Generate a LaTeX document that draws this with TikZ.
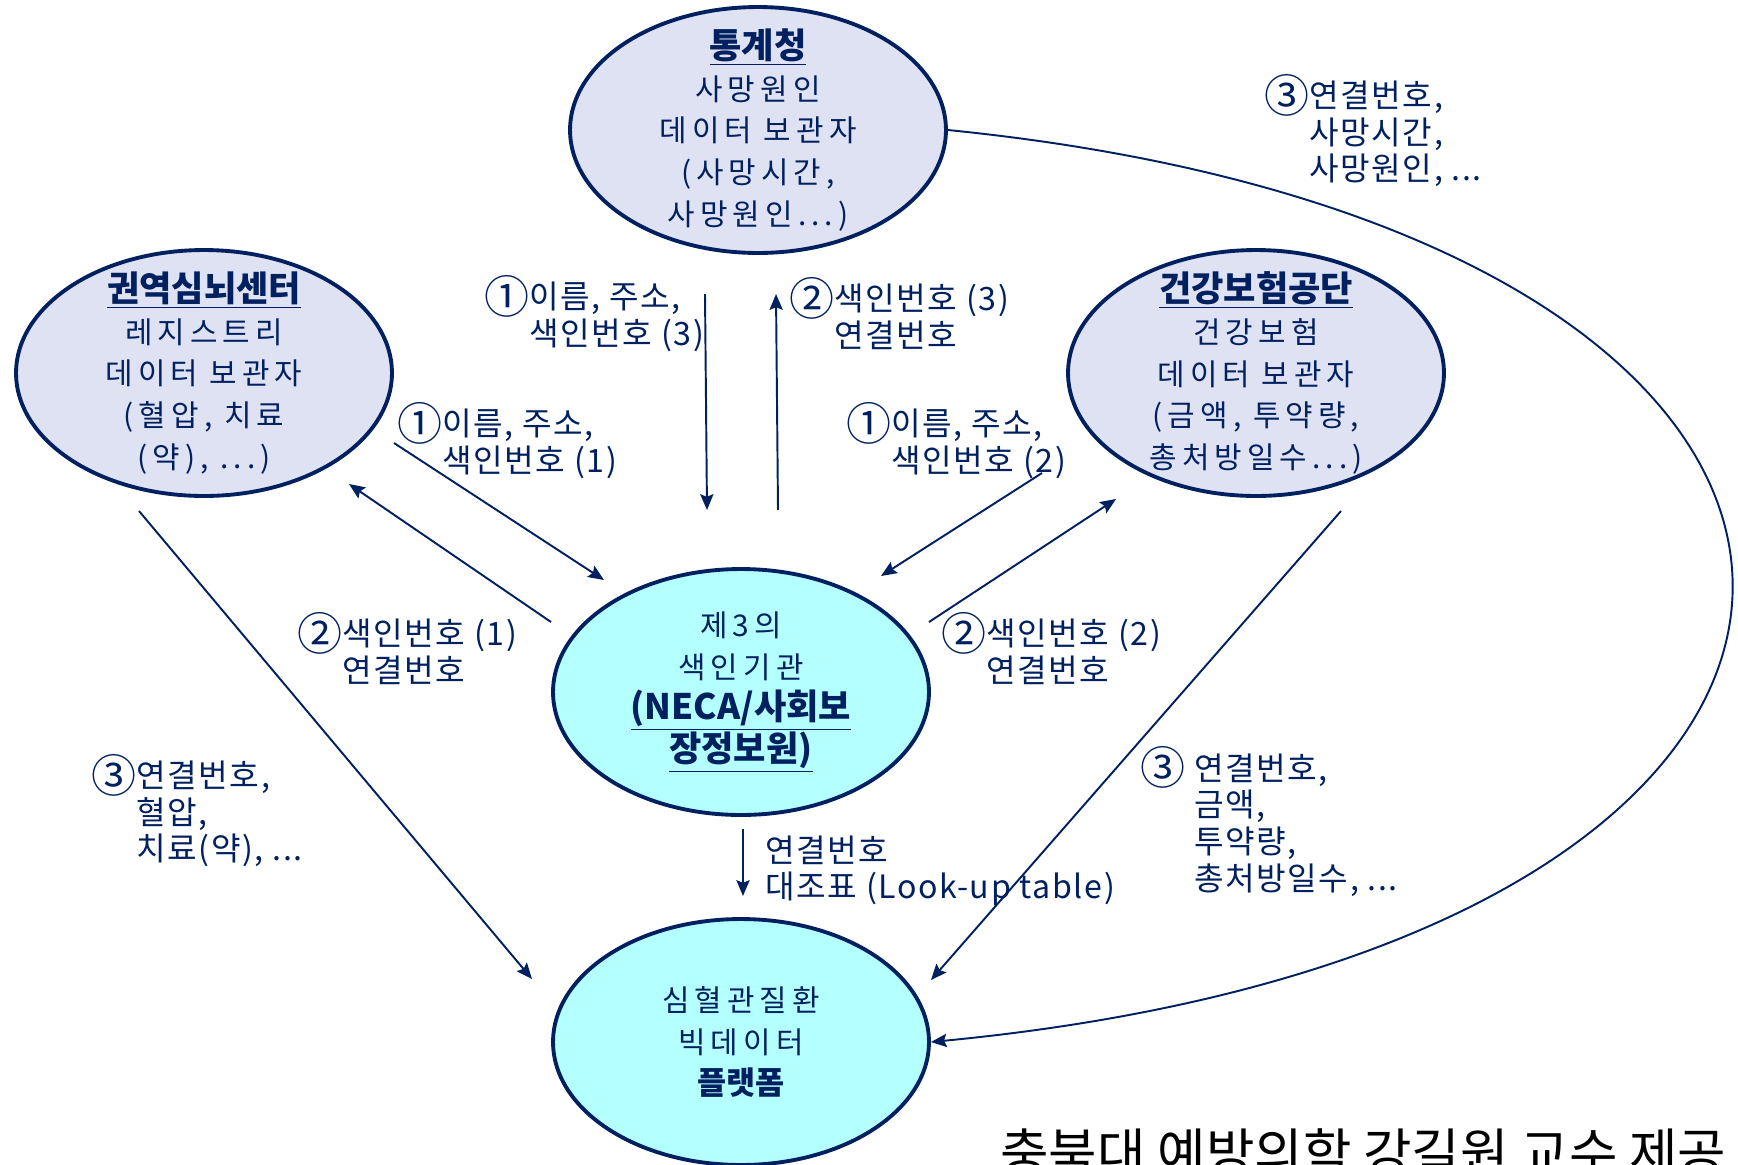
\documentclass[tikz,border=0pt]{standalone}
\usepackage{fontspec}
\setmainfont{Noto Sans CJK KR}
\newfontfamily\spacedkr[LetterSpace=17]{Noto Sans CJK KR}
\newfontfamily\labelkr[LetterSpace=5]{Noto Sans CJK KR}
\usetikzlibrary{shapes.geometric,arrows.meta}

\definecolor{navy}{HTML}{002060}
\definecolor{lavender}{HTML}{DFE2F2}
\definecolor{aqua}{HTML}{B4FFFF}

\newcommand{\head}[1]{{\normalfont\fontsize{20}{23.8}\selectfont\bfseries\underline{#1}}}
\newcommand{\cnum}[1]{\smash{\raisebox{-0.14em}{\scalebox{1.4}{#1}}}}

\tikzset{
	holder/.style={ellipse,draw=navy,line width=2.2pt,fill=lavender,minimum width=7.52cm,minimum height=4.92cm,inner sep=0pt},
	hub/.style={holder,fill=aqua},
	body/.style={align=center,text=navy,font=\fontsize{17}{23.8}\selectfont\spacedkr},
	lbl/.style={align=left,anchor=west,text=navy,inner sep=0pt,font=\fontsize{18.3}{20.8}\selectfont\labelkr},
	link/.style={->,line width=1.1pt,draw=navy},
}

\begin{document}
\begin{tikzpicture}[x=0.02cm,y=-0.02cm,>={Stealth[length=9pt,width=7.5pt,inset=1.5pt]}]
	\clip (0,0) rectangle (1738,1164);
	
	\node[holder] (stat) at (758,130)  {};
	\node[holder] (reg)  at (204,373)  {};
	\node[holder] (nhis) at (1256,373) {};
	\node[hub]    (neca) at (741,692)  {};
	\node[hub]    (plat) at (741,1042) {};
	
	\node[body] (stattxt) at (stat) {\head{통계청}\\사망원인\\데이터 보관자\\(사망시간,\\사망원인...)};
	\node[body] (regtxt)  at (reg)  {\head{권역심뇌센터}\\레지스트리\\데이터 보관자\\(혈압, 치료\\(약), ...)};
	\node[body] (nhistxt) at (nhis) {\head{건강보험공단}\\건강보험\\데이터 보관자\\(금액, 투약량,\\총처방일수...)};
	\node[body] (necatxt) at (neca) {제3의\\색인기관\\\head{(NECA/사회보}\\\head{장정보원)}};
	\node[body] (plattxt) at (plat) {심혈관질환\\빅데이터\\{\normalfont\fontsize{18}{23.8}\selectfont\bfseries 플랫폼}};
	
	\draw[link] ([shift={(-53,164)}]stat.center) -- ([shift={(-34,-182)}]neca.center);	%stat--neca
	\draw[link] ([shift={(37,-182)}]neca.center) -- ([shift={(18,164)}]stat.center);	%neca--stat
	\draw[link] ([shift={(190,70)}]reg.center) -- ([shift={(-137,-112)}]neca.center);	%reg--neca
	\draw[link] ([shift={(-190,-70)}]neca.center) -- ([shift={(145,111)}]reg.center);	%neca--reg
	\draw[link] ([shift={(-214,100)}]nhis.center) -- ([shift={(140,-116)}]neca.center);	%nhis--neca
	\draw[link] ([shift={(188,-70)}]neca.center) -- ([shift={(-140,126)}]nhis.center);	%neca--nhis
	%
	\draw[link] ([shift={(-65,138)}]reg.center) -- ([shift={(-209,-63)}]plat.center);	%reg--plat
	\draw[link] ([shift={(85,138)}]nhis.center) -- ([shift={(190,-62)}]plat.center);	%nhis--plat
	\draw[link] ([shift={(2,137)}]neca.center) -- ([shift={(2,-146)}]plat.center);		%neca--plat
	\draw[link] (stat.east) .. controls (1995,235) and (1995,940) .. (plat.east);		%stat--plat
	
	\node[lbl] (la) at (484,317)  {\cnum{①}이름, 주소,\\\phantom{\cnum{①}}색인번호 (3)};
	\node[lbl] (lb) at (789,317)  {\cnum{②}색인번호 (3)\\\phantom{\cnum{②}}연결번호};
	\node[lbl] (lc) at (397,444)  {\cnum{①}이름, 주소,\\\phantom{\cnum{①}}색인번호 (1)};
	\node[lbl] (ld) at (846,444)  {\cnum{①}이름, 주소,\\\phantom{\cnum{①}}색인번호 (2)};
	\node[lbl] (le) at (297,652)  {\cnum{②}색인번호 (1)\\\phantom{\cnum{②}}연결번호};
	\node[lbl] (lf) at (941,652)  {\cnum{②}색인번호 (2)\\\phantom{\cnum{②}}연결번호};
	\node[lbl] (lg) at (91,814)   {\cnum{③}연결번호,\\\phantom{\cnum{③}}혈압,\\\phantom{\cnum{③}}치료(약), ...};
	\node[lbl] (lh) at (1140,825) {\cnum{③} 연결번호,\\\phantom{\cnum{③} }금액,\\\phantom{\cnum{③} }투약량,\\\phantom{\cnum{③} }총처방일수, ...};
	\node[lbl] (li) at (1264,134) {\cnum{③}연결번호,\\\phantom{\cnum{③}}사망시간,\\\phantom{\cnum{③}}사망원인, ...};
	\node[lbl] (lj) at (765,871)  {연결번호\\대조표 (Look-up table)};
	
	\node[anchor=base west,inner sep=0pt,font=\fontsize{30}{30}\selectfont] (credit) at (1000,1172) {충북대 예방의학 강길원 교수 제공};
\end{tikzpicture}
\end{document}
